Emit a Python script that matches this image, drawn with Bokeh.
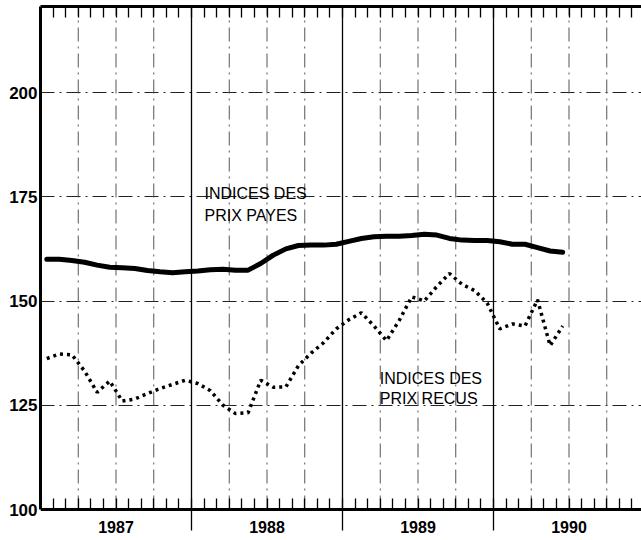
from bokeh.plotting import figure
from bokeh.models import FixedTicker, LinearAxis, Grid
from bokeh.core.properties import value
from bokeh.embed import file_html
from bokeh.resources import INLINE

# ---- data (monthly, Jan 1987 - Jun 1990) ----
years = [1987, 1988, 1989, 1990]
month_index = list(range(42))  # 0 = Jan 1987
prix_payes = [160.0, 160.0, 159.7, 159.3, 158.6, 158.1, 158.0, 157.8, 157.3, 157.0, 156.8, 157.0,
              157.2, 157.5, 157.6, 157.4, 157.4, 159.0, 161.0, 162.5, 163.3, 163.4, 163.4, 163.6,
              164.3, 165.0, 165.4, 165.5, 165.5, 165.7, 166.0, 165.8, 165.0, 164.6, 164.5, 164.5,
              164.2, 163.6, 163.6, 162.8, 162.0, 161.7]
prix_recus = [136.2, 137.3, 137.1, 133.2, 128.1, 130.8, 126.0, 126.5, 127.8, 129.0, 130.0, 131.0,
              130.2, 128.5, 125.0, 123.0, 123.2, 131.0, 129.3, 129.4, 134.5, 137.5, 140.0, 143.3,
              145.5, 147.2, 144.0, 140.5, 145.3, 151.0, 150.0, 153.5, 156.6, 154.0, 152.5, 149.5,
              143.3, 144.5, 144.0, 150.3, 139.3, 144.0]
y_ticks = [100, 125, 150, 175, 200]
label_payes = ["INDICES DES", "PRIX PAYES"]
label_recus = ["INDICES DES", "PRIX RECUS"]

# ---- derived positions ----
x_dec = [1987 + (m + 0.5) / 12 for m in month_index]
month_bounds = [1987 + k / 12 for k in range(1, 48)]
quarters = [1987 + k / 4 for k in range(1, 16) if k % 4 != 0]
year_bounds = [1988, 1989, 1990]
mid_years = [y + 0.5 for y in years]

S = 4.17            # pixels per index unit
PX_YEAR = 151.0     # pixels per year
W, H = 641, 540
LEFT, TOP = 40, 6
BOTTOM_PX = 509     # pixel row of the value 100
y_min = 100 - (H - BOTTOM_PX) / S
y_max = 100 + (BOTTOM_PX - TOP) / S
x_max = 1987 + (W - LEFT) / PX_YEAR

p = figure(width=W, height=H, x_range=(1987, x_max), y_range=(y_min, y_max),
           output_backend="svg", toolbar_location=None,
           x_axis_location=None, y_axis_location=None)
p.min_border_left = LEFT
p.min_border_right = 0
p.min_border_top = TOP
p.min_border_bottom = 0
p.outline_line_color = None
p.background_fill_color = "white"
p.border_fill_color = "white"
p.xgrid.visible = False
p.ygrid.visible = False

# left axis
ly = LinearAxis(ticker=FixedTicker(ticks=y_ticks), bounds=(100, y_max))
ly.axis_line_width = 3
ly.axis_line_color = "black"
ly.major_tick_in = 0
ly.major_tick_out = 0
ly.minor_tick_in = 0
ly.minor_tick_out = 0
ly.major_label_standoff = 3
ly.major_label_text_font = "Liberation Sans"
ly.major_label_text_font_style = "bold"
ly.major_label_text_font_size = "17px"
ly.major_label_text_color = "black"
p.add_layout(ly, "left")


def month_axis(**kw):
    ax = LinearAxis(ticker=FixedTicker(ticks=[], minor_ticks=month_bounds), **kw)
    ax.axis_line_width = 3
    ax.axis_line_color = "black"
    ax.major_tick_in = 0
    ax.major_tick_out = 0
    ax.minor_tick_in = 11
    ax.minor_tick_out = 0
    ax.minor_tick_line_width = 1.3
    ax.minor_tick_line_color = "black"
    ax.major_label_text_font_size = "1px"
    ax.major_label_standoff = 0
    return ax


# top frame edge with inward monthly ticks
p.add_layout(month_axis(), "above")
# base line at value 100 with inward monthly ticks
p.add_layout(month_axis(fixed_location=100), "below")

# horizontal dash-dot grid
gh = Grid(dimension=1, ticker=FixedTicker(ticks=y_ticks[1:]))
gh.grid_line_color = "#222222"
gh.grid_line_width = 1
gh.grid_line_dash = "14 5 2 5"
p.add_layout(gh)

# quarterly dash-dot verticals
p.multi_line(xs=[[q, q] for q in quarters], ys=[[100, y_max] for q in quarters],
             line_color="#555555", line_width=1, line_dash="14 5 2 5")
# solid year boundaries, extending below the base line
p.multi_line(xs=[[b, b] for b in year_bounds], ys=[[100 - 21 / S, y_max] for b in year_bounds],
             line_color="black", line_width=1.3)

# series
p.line(x_dec, prix_payes, line_color="black", line_width=5, line_join="round", line_cap="round")
p.line(x_dec, prix_recus, line_color="black", line_width=3.5, line_dash="3 4")

# annotations
p.text(x=[1988.086] * 2, y=[175.7, 170.5], text=label_payes, text_font=value("Liberation Sans"),
       text_font_size="16px", text_color="black", text_baseline="alphabetic")
p.text(x=[1989.247] * 2, y=[131.5, 126.5], text=label_recus, text_font=value("Liberation Sans"),
       text_font_size="16px", text_color="black", text_baseline="alphabetic")

# year labels
p.text(x=mid_years, y=[100 - 17 / S] * len(years), text=[str(y) for y in years],
       text_font=value("Liberation Sans"), text_font_style="bold",
       text_font_size="16px", text_color="black", text_align="center", text_baseline="middle")

open("out.html", "w").write(file_html(p, INLINE))
